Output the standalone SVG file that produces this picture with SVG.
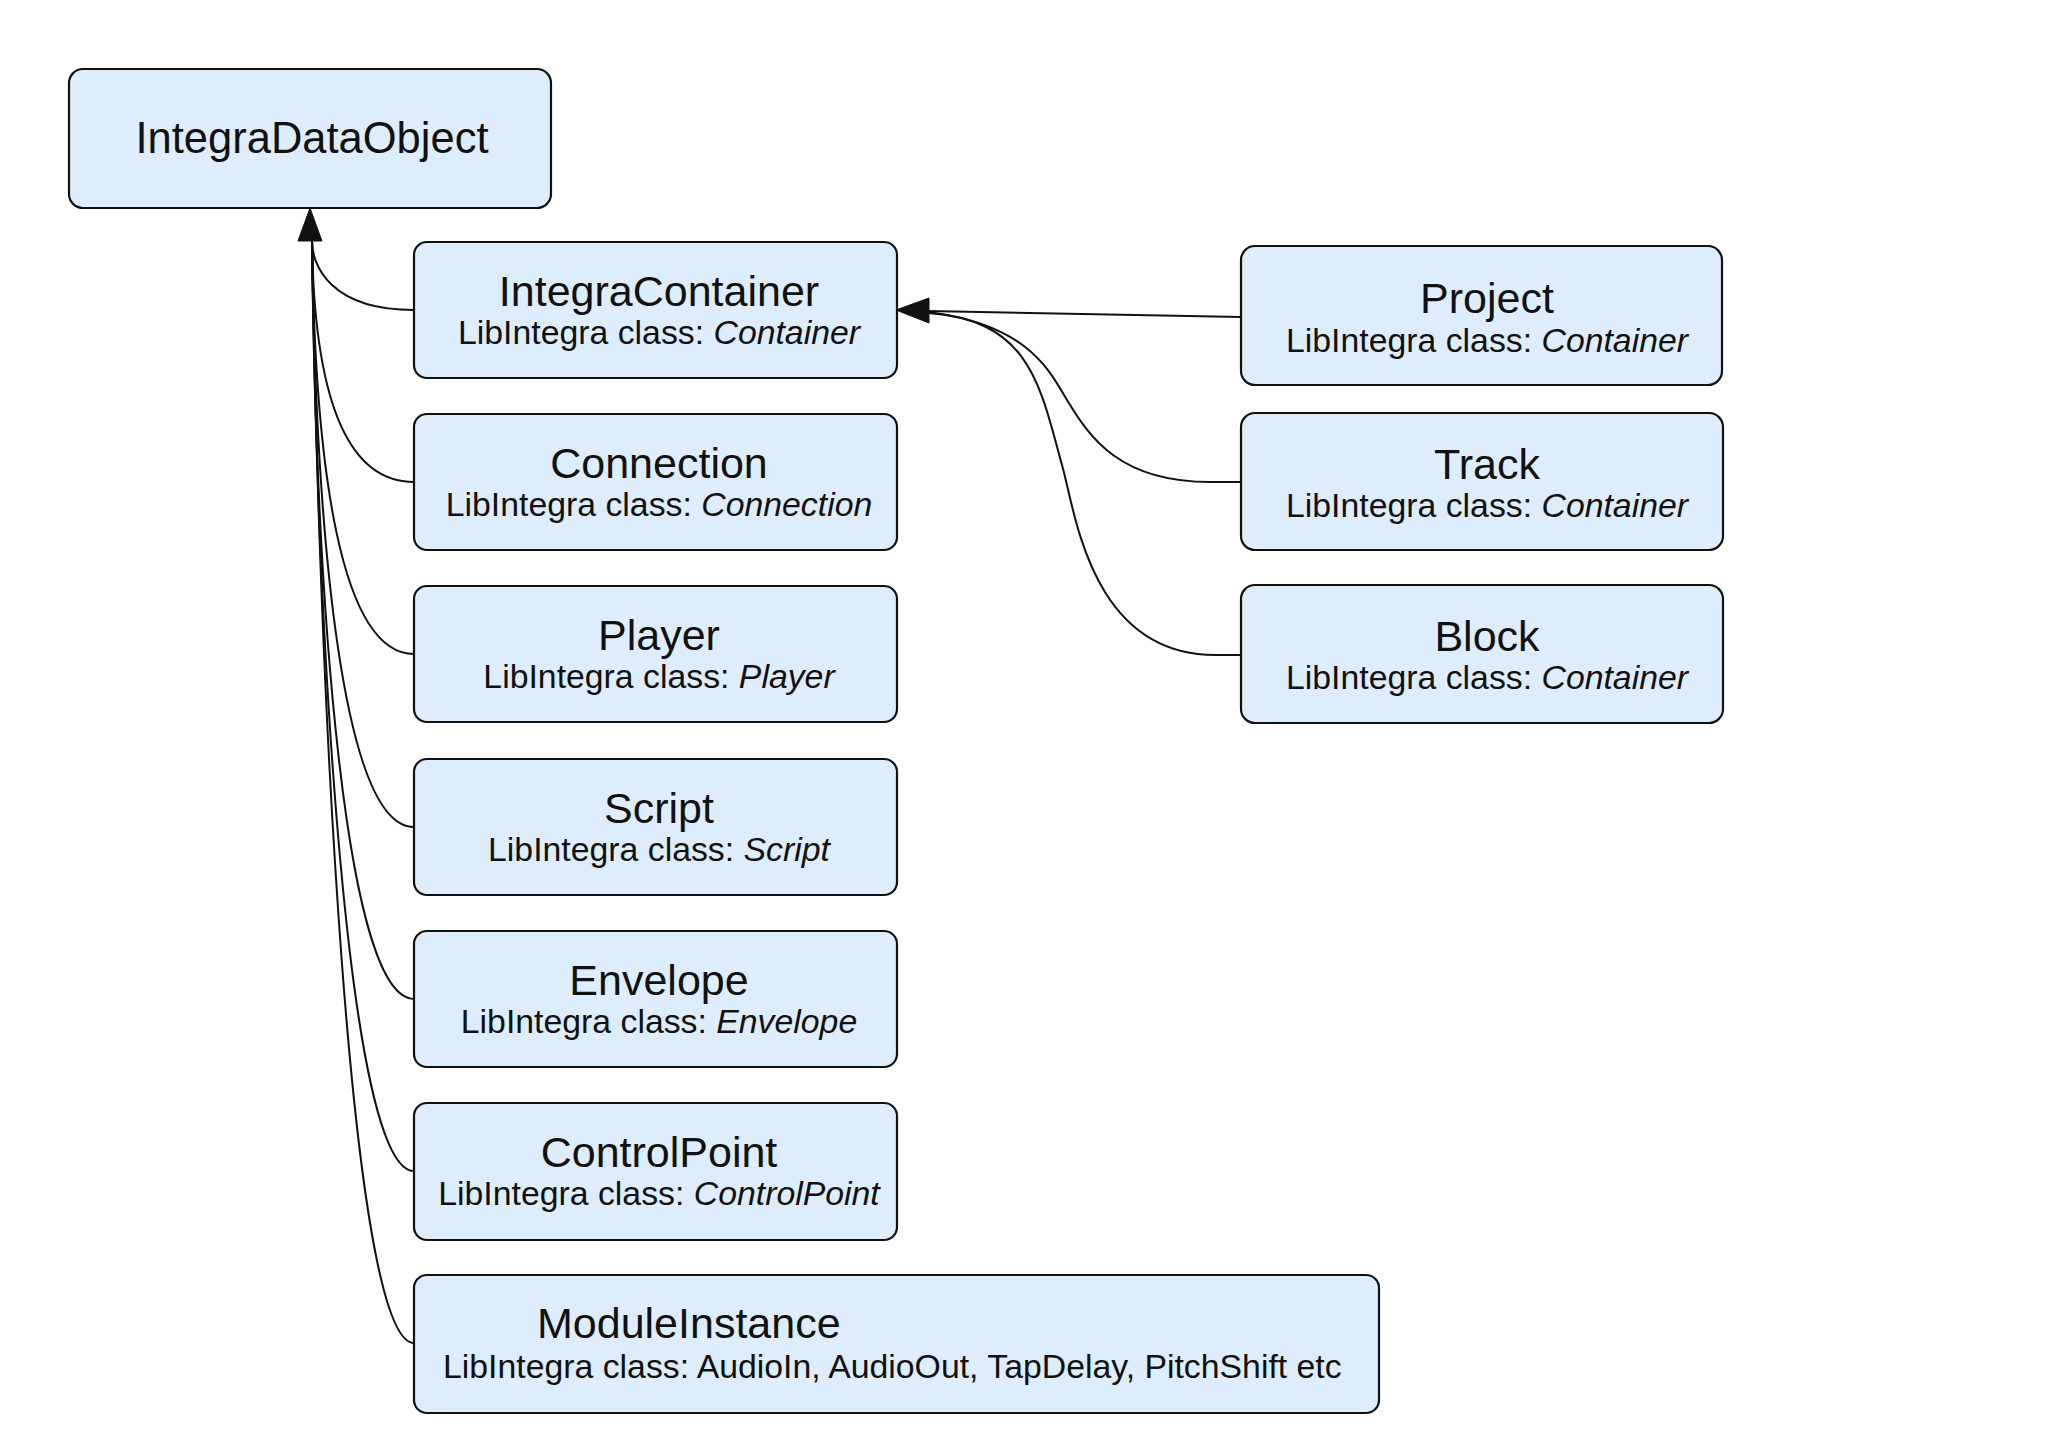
<svg xmlns="http://www.w3.org/2000/svg" width="2048" height="1447" viewBox="0 0 2048 1447">
<style>
.box{fill:#deedfc;stroke:#111;stroke-width:2.2}
.t{font-family:"Liberation Sans",Arial,sans-serif;font-size:43px;fill:#111;text-anchor:middle}
.s{font-family:"Liberation Sans",Arial,sans-serif;font-size:33.8px;fill:#111;text-anchor:middle}
.i{font-style:italic}
.c{fill:none;stroke:#111;stroke-width:2}
.ah{fill:#111;stroke:#111;stroke-width:1}
</style>
<rect width="2048" height="1447" fill="#fff"/>
<g id="connectors">
<path class="c" d="M414,310 C330,310 312,265 312,241"/>
<path class="c" d="M414,482 C340,482 314,380 312,241"/>
<path class="c" d="M414,654 C340,654 315,466 312,241"/>
<path class="c" d="M414,827 C343,827 316,542 312,241"/>
<path class="c" d="M414,999 C345,999 316,606 312,241"/>
<path class="c" d="M414,1171 C348,1171 318,659 312,241"/>
<path class="c" d="M414,1343 C350,1343 320,700 312,241"/>
<polygon class="ah" points="310,208 298,241 322,241"/>
<path class="c" d="M1241,317 L928,311"/>
<path class="c" d="M1241,482 L1210,482 C1120,482 1090,438 1067,400 C1050,372 1030,325 928,312"/>
<path class="c" d="M1241,655 L1215,655 C1090,655 1075,510 1062,465 C1040,385 1030,320 928,313"/>
<polygon class="ah" points="896,310 929,298 929,323"/>
</g>
<g id="IntegraDataObject">
<rect class="box" x="69" y="69" width="482" height="139" rx="14"/>
<text class="t" x="312" y="153" style="font-size:43.5px">IntegraDataObject</text>
</g>
<g id="IntegraContainer">
<rect class="box" x="414" y="242" width="483" height="136" rx="13"/>
<text class="t" x="659" y="306">IntegraContainer</text>
<text class="s" x="659" y="344">LibIntegra class: <tspan class="i">Container</tspan></text>
</g>
<g id="Connection">
<rect class="box" x="414" y="414" width="483" height="136" rx="13"/>
<text class="t" x="659" y="478">Connection</text>
<text class="s" x="659" y="516">LibIntegra class: <tspan class="i">Connection</tspan></text>
</g>
<g id="Player">
<rect class="box" x="414" y="586" width="483" height="136" rx="13"/>
<text class="t" x="659" y="650">Player</text>
<text class="s" x="659" y="688">LibIntegra class: <tspan class="i">Player</tspan></text>
</g>
<g id="Script">
<rect class="box" x="414" y="759" width="483" height="136" rx="13"/>
<text class="t" x="659" y="823">Script</text>
<text class="s" x="659" y="861">LibIntegra class: <tspan class="i">Script</tspan></text>
</g>
<g id="Envelope">
<rect class="box" x="414" y="931" width="483" height="136" rx="13"/>
<text class="t" x="659" y="995">Envelope</text>
<text class="s" x="659" y="1033">LibIntegra class: <tspan class="i">Envelope</tspan></text>
</g>
<g id="ControlPoint">
<rect class="box" x="414" y="1103" width="483" height="137" rx="13"/>
<text class="t" x="659" y="1167">ControlPoint</text>
<text class="s" x="659" y="1205">LibIntegra class: <tspan class="i">ControlPoint</tspan></text>
</g>
<g id="ModuleInstance">
<rect class="box" x="414" y="1275" width="965" height="138" rx="13"/>
<text class="t" x="537" y="1338" style="text-anchor:start">ModuleInstance</text>
<text class="s" x="443" y="1378" style="text-anchor:start">LibIntegra class: AudioIn, AudioOut, TapDelay, PitchShift etc</text>
</g>
<g id="Project">
<rect class="box" x="1241" y="246" width="481" height="139" rx="14"/>
<text class="t" x="1487" y="313">Project</text>
<text class="s" x="1487" y="352">LibIntegra class: <tspan class="i">Container</tspan></text>
</g>
<g id="Track">
<rect class="box" x="1241" y="413" width="482" height="137" rx="14"/>
<text class="t" x="1487" y="479">Track</text>
<text class="s" x="1487" y="517">LibIntegra class: <tspan class="i">Container</tspan></text>
</g>
<g id="Block">
<rect class="box" x="1241" y="585" width="482" height="138" rx="14"/>
<text class="t" x="1487" y="651">Block</text>
<text class="s" x="1487" y="689">LibIntegra class: <tspan class="i">Container</tspan></text>
</g>
</svg>
